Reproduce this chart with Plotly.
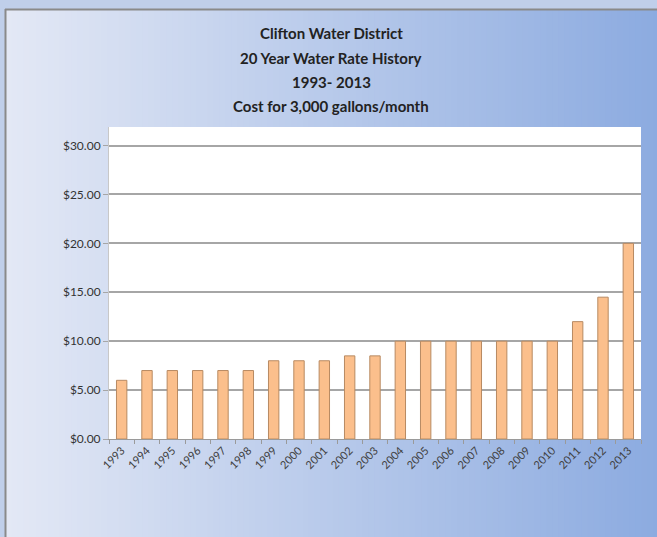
import plotly.graph_objects as go

years = [str(y) for y in range(1993, 2014)]
costs = [6.0, 7.0, 7.0, 7.0, 7.0, 7.0, 8.0, 8.0, 8.0, 8.5, 8.5,
         10.0, 10.0, 10.0, 10.0, 10.0, 10.0, 10.0, 12.0, 14.5, 20.0]
title_lines = ["Clifton Water District", "20 Year Water Rate History",
               "1993- 2013", "Cost for 3,000 gallons/month"]
y_ticks = [0, 5, 10, 15, 20, 25, 30]

W, H = 657, 537
L, R, T, B = 109, 16, 127, 98
pw, ph = W - L - R, H - T - B

def px_x(X):
    return (X - L) / pw

def px_y(Y):
    return (H - B - Y) / ph

fig = go.Figure()
fig.add_trace(go.Bar(
    x=years, y=costs,
    marker=dict(color="#fbbf8c", line=dict(color="#b88a62", width=1)),
    hoverinfo="x+y",
))

shapes = []
# gradient background strips
c0 = (0xe3, 0xe8, 0xf5)
c1 = (0x8c, 0xab, 0xe0)
N = 110
x_start, x_end = 6, W + 2
for i in range(N):
    t = i / (N - 1)
    col = tuple(round(c0[k] + (c1[k] - c0[k]) * t) for k in range(3))
    xa = x_start + (x_end - x_start) * i / N
    xb = x_start + (x_end - x_start) * (i + 1) / N + 1
    shapes.append(dict(type="rect", xref="paper", yref="paper",
                       x0=px_x(xa), x1=px_x(xb), y0=px_y(H + 2), y1=px_y(10),
                       fillcolor="rgb(%d,%d,%d)" % col, line=dict(width=0),
                       layer="below"))
# white plot area
shapes.append(dict(type="rect", xref="paper", yref="paper", x0=0, x1=1, y0=0,
                   y1=1, fillcolor="white", line=dict(width=0), layer="below"))
# outer frame lines (top and left)
shapes.append(dict(type="line", xref="paper", yref="paper",
                   x0=px_x(5), x1=px_x(W + 2), y0=px_y(9.5), y1=px_y(9.5),
                   line=dict(color="#8a8a8a", width=2), layer="below"))
shapes.append(dict(type="line", xref="paper", yref="paper",
                   x0=px_x(5.5), x1=px_x(5.5), y0=px_y(9), y1=px_y(H + 2),
                   line=dict(color="#8a8a8a", width=2), layer="below"))

annotations = []
title_y = [33, 58, 82, 106]
for txt, yy in zip(title_lines, title_y):
    annotations.append(dict(text="<b>" + txt + "</b>", xref="paper", yref="paper",
                            x=px_x(331), y=px_y(yy), xanchor="center",
                            yanchor="middle", showarrow=False,
                            font=dict(family="Lato", size=15, color="#222222")))

fig.update_layout(
    width=W, height=H,
    margin=dict(l=L, r=R, t=T, b=B, pad=0),
    paper_bgcolor="#c0cfea",
    plot_bgcolor="white",
    shapes=shapes,
    annotations=annotations,
    showlegend=False,
    bargap=0.59,
    font=dict(family="Lato", color="#333333"),
    xaxis=dict(
        type="category", tickangle=-45, tickfont=dict(size=11, color="#404040"),
        showgrid=False, showline=True, linecolor="#9a9a9a", linewidth=1,
        ticks="outside", ticklen=4, tickcolor="#9a9a9a", tickson="boundaries",
    ),
    yaxis=dict(
        range=[0, 31.9], tickvals=y_ticks, tickformat="$.2f",
        tickfont=dict(size=12, color="#333333"),
        showgrid=True, gridcolor="#a6a6a6", gridwidth=1.5,
        showline=True, linecolor="#c8c8c8", linewidth=1,
        ticks="outside", ticklen=5, tickcolor="#a6a6a6",
        zeroline=False,
    ),
)

fig.write_html("out.html")
